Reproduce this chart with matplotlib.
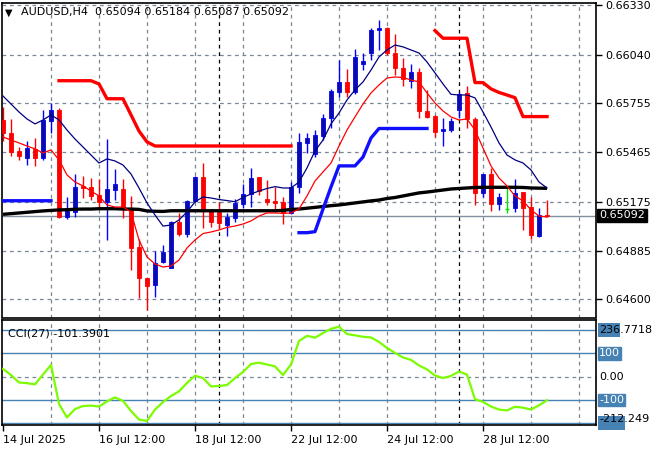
import numpy as np
import matplotlib
matplotlib.use('Agg')
import matplotlib.pyplot as plt
from matplotlib.patches import Rectangle

# ---------------- data (AUDUSD H4) ----------------
symbol_title = "AUDUSD,H4  0.65094 0.65184 0.65087 0.65092"
opens = [0.65655, 0.65579, 0.65473, 0.65430, 0.65483, 0.65433, 0.65651, 0.65714, 0.65086, 0.65116,
         0.65267, 0.65259, 0.65214, 0.65174, 0.65243, 0.65249, 0.65136, 0.64908, 0.64724, 0.64684,
         0.64818, 0.64786, 0.65055, 0.64983, 0.65179, 0.65322, 0.65126, 0.65116, 0.65037, 0.65080,
         0.65161, 0.65218, 0.65318, 0.65190, 0.65179, 0.65174, 0.65106, 0.65259, 0.65522, 0.65455,
         0.65563, 0.65665, 0.65822, 0.65880, 0.65822, 0.65983, 0.66051, 0.66185, 0.66198, 0.66047,
         0.65959, 0.65886, 0.65939, 0.65708, 0.65679, 0.65592, 0.65596, 0.65712, 0.65812, 0.65659,
         0.65224, 0.65337, 0.65161, 0.65131, 0.65136, 0.65230, 0.65145, 0.64974, 0.65094]
highs = [0.65732, 0.65661, 0.65498, 0.65532, 0.65547, 0.65714, 0.65753, 0.65724, 0.65200, 0.65337,
         0.65326, 0.65312, 0.65306, 0.65542, 0.65365, 0.65306, 0.65208, 0.64953, 0.64728, 0.64886,
         0.64920, 0.65061, 0.65106, 0.65182, 0.65326, 0.65404, 0.65130, 0.65174, 0.65110, 0.65188,
         0.65279, 0.65374, 0.65320, 0.65302, 0.65259, 0.65200, 0.65289, 0.65577, 0.65577, 0.65596,
         0.65690, 0.65837, 0.66008, 0.65953, 0.66071, 0.66048, 0.66195, 0.66243, 0.66202, 0.66161,
         0.66018, 0.65985, 0.65959, 0.65832, 0.65685, 0.65665, 0.65665, 0.65820, 0.65855, 0.65674,
         0.65340, 0.65371, 0.65224, 0.65253, 0.65306, 0.65232, 0.65200, 0.65136, 0.65184]
lows = [0.65532, 0.65443, 0.65420, 0.65390, 0.65385, 0.65420, 0.65580, 0.65077, 0.65073, 0.65086,
        0.65194, 0.65184, 0.65136, 0.64949, 0.65184, 0.65077, 0.64773, 0.64610, 0.64537, 0.64615,
        0.64814, 0.64784, 0.64973, 0.64968, 0.65174, 0.65021, 0.65024, 0.65012, 0.64974, 0.65057,
        0.65136, 0.65145, 0.65214, 0.65155, 0.65116, 0.65045, 0.65100, 0.65224, 0.65463, 0.65439,
        0.65537, 0.65606, 0.65789, 0.65789, 0.65806, 0.65949, 0.66008, 0.66067, 0.66037, 0.65920,
        0.65855, 0.65842, 0.65665, 0.65665, 0.65557, 0.65504, 0.65586, 0.65665, 0.65606, 0.65155,
        0.65200, 0.65121, 0.65125, 0.65110, 0.65116, 0.65008, 0.64955, 0.64968, 0.65087]
closes = [0.65579, 0.65467, 0.65445, 0.65489, 0.65433, 0.65655, 0.65714, 0.65083, 0.65136, 0.65263,
          0.65255, 0.65208, 0.65174, 0.65249, 0.65277, 0.65131, 0.64904, 0.64724, 0.64680, 0.64816,
          0.64877, 0.65055, 0.64984, 0.65179, 0.65322, 0.65120, 0.65055, 0.65047, 0.65083, 0.65165,
          0.65220, 0.65312, 0.65239, 0.65174, 0.65165, 0.65106, 0.65259, 0.65524, 0.65551, 0.65567,
          0.65665, 0.65826, 0.65880, 0.65822, 0.66024, 0.66002, 0.66185, 0.66195, 0.66047, 0.65959,
          0.65895, 0.65939, 0.65710, 0.65675, 0.65586, 0.65600, 0.65651, 0.65806, 0.65659, 0.65224,
          0.65337, 0.65161, 0.65204, 0.65131, 0.65227, 0.65139, 0.64978, 0.65096, 0.65092]

fast_ma = [0.65796, 0.65749, 0.65702, 0.65661, 0.65632, 0.65655, 0.65685, 0.65655, 0.65596, 0.65543,
           0.65496, 0.65449, 0.65402, 0.65426, 0.65414, 0.65390, 0.65337, 0.65255, 0.65167, 0.65096,
           0.65031, 0.65037, 0.65067, 0.65114, 0.65173, 0.65202, 0.65196, 0.65187, 0.65181, 0.65174,
           0.65199, 0.65220, 0.65237, 0.65252, 0.65263, 0.65255, 0.65255, 0.65290, 0.65373, 0.65473,
           0.65537, 0.65632, 0.65696, 0.65773, 0.65832, 0.65879, 0.65949, 0.66026, 0.66067, 0.66096,
           0.66085, 0.66067, 0.66049, 0.65996, 0.65932, 0.65867, 0.65806, 0.65802, 0.65802, 0.65785,
           0.65702, 0.65614, 0.65520, 0.65449, 0.65420, 0.65402, 0.65361, 0.65290, 0.65255]
slow_ma = [0.65555, 0.65537, 0.65520, 0.65502, 0.65485, 0.65461, 0.65479, 0.65420, 0.65332, 0.65290,
           0.65267, 0.65237, 0.65208, 0.65155, 0.65143, 0.65143, 0.65114, 0.64949, 0.64849, 0.64808,
           0.64790, 0.64796, 0.64831, 0.64902, 0.64949, 0.64987, 0.64996, 0.65008, 0.65023, 0.65031,
           0.65043, 0.65061, 0.65090, 0.65108, 0.65108, 0.65106, 0.65108, 0.65131, 0.65208, 0.65296,
           0.65349, 0.65402, 0.65502, 0.65596, 0.65673, 0.65749, 0.65814, 0.65861, 0.65902, 0.65908,
           0.65905, 0.65890, 0.65879, 0.65814, 0.65755, 0.65708, 0.65673, 0.65655, 0.65661, 0.65596,
           0.65490, 0.65385, 0.65314, 0.65267, 0.65208, 0.65179, 0.65126, 0.65090, 0.65084]
long_ma = [0.65100, 0.65104, 0.65108, 0.65112, 0.65116, 0.65120, 0.65123, 0.65126, 0.65127, 0.65130,
           0.65131, 0.65131, 0.65133, 0.65133, 0.65133, 0.65131, 0.65131, 0.65129, 0.65120, 0.65118,
           0.65117, 0.65121, 0.65121, 0.65121, 0.65121, 0.65121, 0.65121, 0.65121, 0.65121, 0.65121,
           0.65121, 0.65121, 0.65121, 0.65121, 0.65121, 0.65123, 0.65129, 0.65131, 0.65136, 0.65141,
           0.65146, 0.65151, 0.65155, 0.65161, 0.65167, 0.65173, 0.65179, 0.65184, 0.65193, 0.65199,
           0.65208, 0.65217, 0.65226, 0.65231, 0.65237, 0.65243, 0.65249, 0.65252, 0.65255, 0.65258,
           0.65259, 0.65259, 0.65259, 0.65259, 0.65259, 0.65258, 0.65255, 0.65254, 0.65253]
N = None
stop_upper = [N, N, N, N, N, N, N, 0.65886, 0.65886, 0.65886,
              0.65886, 0.65886, 0.65867, 0.65780, 0.65780, 0.65780, 0.65685, 0.65590, 0.65526, 0.65502,
              0.65502, 0.65502, 0.65502, 0.65502, 0.65502, 0.65502, 0.65502, 0.65502, 0.65502, 0.65502,
              0.65502, 0.65502, 0.65502, 0.65502, 0.65502, 0.65502, 0.65502, N, N, N,
              N, N, N, N, N, N, N, N, N, N,
              N, N, N, N, 0.66181, 0.66136, 0.66136, 0.66136, 0.66136, 0.65875,
              0.65875, 0.65838, 0.65817, 0.65802, 0.65786, 0.65675, 0.65675, 0.65675, 0.65675]
stop_lower = [0.65180, 0.65180, 0.65180, 0.65180, 0.65180, 0.65180, 0.65180, N, N, N,
              N, N, N, N, N, N, N, N, N, N,
              N, N, N, N, N, N, N, N, N, N,
              N, N, N, N, N, N, N, 0.64992, 0.64992, 0.64998,
              0.65131, 0.65261, 0.65385, 0.65385, 0.65385, 0.65437, 0.65549, 0.65605, 0.65605, 0.65605,
              0.65605, 0.65605, 0.65605, 0.65605, N, N, N, N, N, N,
              N, N, N, N, N, N, N, N, N]
cci = [33, 7, -25, -28, -33, 9, 50, -117, -175, -139,
       -126, -124, -128, -106, -89, -104, -147, -184, -190, -141,
       -109, -83, -63, -27, 4, -6, -42, -40, -36, -6,
       20, 54, 60, 52, 44, 7, 52, 153, 175, 167,
       187, 205, 214, 183, 177, 171, 168, 149, 123, 102,
       82, 72, 48, 31, 5, -6, 3, 22, 9, -97,
       -108, -128, -141, -145, -129, -133, -141, -123, -101.39]

price_ticks = [0.66330, 0.66040, 0.65755, 0.65465, 0.65175, 0.64885, 0.64600]
price_tick_labels = ["0.66330", "0.66040", "0.65755", "0.65465", "0.65175", "0.64885", "0.64600"]
current_price = 0.65092
cci_label = "CCI(27) -101.3901"
cci_levels = [200, 100, -100, -200]
date_idx = [0, 12, 24, 36, 48, 60]
date_labels = ["14 Jul 2025", "16 Jul 12:00", "18 Jul 12:00", "22 Jul 12:00", "24 Jul 12:00", "28 Jul 12:00"]
week_sep_idx = [27, 57]

# ---------------- styling ----------------
W, H = 660, 450
plt.rcParams['font.family'] = ['DejaVu Sans']
fig = plt.figure(figsize=(W / 100, H / 100), dpi=100)
fig.patch.set_facecolor('white')

def fx(px):
    return px / W

def fy(py):
    return 1 - py / H

xl, xr = 2, 596
ax = fig.add_axes([fx(xl), fy(317.5), fx(xr - xl), (317.5 - 2.7) / H])
axc = fig.add_axes([fx(xl), fy(425), fx(xr - xl), (425 - 319.5) / H])

n = len(opens)
x = np.arange(n)
xmin, xmax = -0.125, 74.125

GRID = '#7b8794'
BULL_FILL = '#0b0ba6'
BULL_EDGE = '#0000ff'
BEAR = '#ff0000'
DOJI = '#00e000'

for a in (ax, axc):
    a.set_xlim(xmin, xmax)
    for s in a.spines.values():
        s.set_color('black')
        s.set_linewidth(1.2)
    for gx in range(6, 75, 6):
        a.axvline(gx, color=GRID, lw=0.9, ls=(0, (3, 3)), zorder=0)
    for wx in week_sep_idx:
        a.axvline(wx, color='black', lw=0.9, ls=(0, (3, 3)), zorder=0.5)

# main price pane
ax.set_ylim(0.64493, 0.66345)
for p in price_ticks:
    ax.axhline(p, color=GRID, lw=0.9, ls=(0, (3, 3)), zorder=0)
ax.axhline(current_price, color='#8090a0', lw=1.0, zorder=0.6)

o = np.array(opens); h = np.array(highs); l = np.array(lows); c = np.array(closes)
bw = 0.62
for i in range(n):
    if c[i] > o[i]:
        ax.vlines(x[i], l[i], h[i], color=BULL_EDGE, lw=1.0, zorder=2)
        ax.bar(x[i], c[i] - o[i], bottom=o[i], width=bw, color=BULL_FILL,
               edgecolor=BULL_EDGE, linewidth=0.6, zorder=3)
    elif c[i] < o[i]:
        ax.vlines(x[i], l[i], h[i], color=BEAR, lw=1.0, zorder=2)
        ax.bar(x[i], o[i] - c[i], bottom=c[i], width=bw, color=BEAR,
               edgecolor=BEAR, linewidth=0.6, zorder=3)
    else:
        ax.vlines(x[i], l[i], h[i], color=DOJI, lw=1.0, zorder=2)
        ax.hlines(o[i], x[i] - bw / 2, x[i] + bw / 2, color=DOJI, lw=1.0, zorder=3)

def arr(v):
    return np.array([np.nan if t is None else t for t in v], dtype=float)

ax.plot(x, arr(long_ma), color='black', lw=2.4, zorder=4, solid_capstyle='butt')
ax.plot(x, arr(fast_ma), color='#000080', lw=0.9, zorder=4)
ax.plot(x, arr(slow_ma), color='#ff0000', lw=0.9, zorder=4)
ax.plot(x, arr(stop_upper), color='#ff0000', lw=2.4, zorder=4)
ax.plot(x, arr(stop_lower), color='#1010ff', lw=2.4, zorder=4)

ax.set_xticks([])
ax.set_yticks(price_ticks)
ax.set_yticklabels(price_tick_labels)
ax.yaxis.tick_right()
ax.tick_params(axis='y', direction='out', length=4, width=1, pad=3, labelsize=8, colors='black')

# current price box
fig.text(fx(599), fy(215.3), "0.65092", color='white', fontsize=8, va='center', ha='left',
         bbox=dict(boxstyle='square,pad=0.15', facecolor='black', edgecolor='black'))

# title
fig.text(fx(5), fy(12.5), "\u25bc", fontsize=7, va='center', ha='left', color='black')
fig.text(fx(21), fy(12.5), symbol_title, fontsize=8, va='center', ha='left', color='black')

# CCI pane
axc.set_ylim(-207.3, 245)
for lv in cci_levels:
    axc.axhline(lv, color='#4682b4', lw=1.0, zorder=1)
axc.axhline(0, color=GRID, lw=0.9, ls=(0, (3, 3)), zorder=0)
axc.plot(x, cci, color='#7cfc00', lw=1.6, zorder=4)
axc.set_yticks([])
axc.set_xticks(date_idx)
axc.set_xticklabels(date_labels)
for t in axc.get_xticklabels():
    t.set_horizontalalignment('left')
axc.tick_params(axis='x', direction='out', length=4, width=1, pad=3, labelsize=8, colors='black')

axc.text(0.01, 0.87, cci_label, transform=axc.transAxes, fontsize=8, va='center', ha='left')

# CCI right labels
def cci_y(v):
    lo, hi = axc.get_ylim()
    y0, y1 = 425, 319.5
    return y0 + (v - lo) / (hi - lo) * (y1 - y0)

for lv, txt in [(100, "100"), (-100, "-100")]:
    fig.text(fx(599), fy(cci_y(lv)), txt, color='white', fontsize=8, va='center', ha='left',
             bbox=dict(boxstyle='square,pad=0.12', facecolor='#4682b4', edgecolor='#4682b4'))
# +/-200 level boxes sit behind the max/min labels (their own text is hidden there)
for lv, wpx in [(200, 22), (-200, 27)]:
    yc = cci_y(lv)
    fig.patches.append(Rectangle((fx(598), fy(yc + 7)), wpx / W, 14 / H,
                                 transform=fig.transFigure, facecolor='#4682b4',
                                 edgecolor='none', zorder=0))
fig.text(fx(599), fy(cci_y(0)), "0.00", color='black', fontsize=8, va='center', ha='left')
fig.text(fx(599), fy(330), "236.7718", color='black', fontsize=8, va='center', ha='left')
fig.text(fx(599), fy(418.5), "-212.249", color='black', fontsize=8, va='center', ha='left')

fig.savefig('out.png', dpi=100, facecolor='white')
